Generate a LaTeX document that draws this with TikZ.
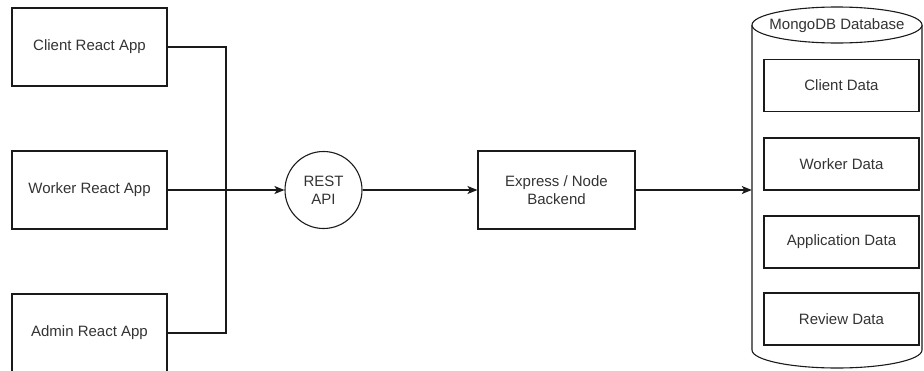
\documentclass[tikz,border=0pt]{standalone}
\usepackage{fontspec}
\setmainfont{Liberation Sans}
\usepackage{tikz}
\usetikzlibrary{arrows.meta, positioning, calc}
\definecolor{InkGray}{HTML}{333333}
\definecolor{WireGray}{HTML}{1A1A1A}

\begin{document}
\begin{tikzpicture}[x=1pt, y=-1pt,
    appbox/.style={draw=WireGray, line width=1.1pt, minimum width=155pt, minimum height=78pt, inner sep=0pt, text=InkGray, font=\fontsize{15}{18}\selectfont, align=center},
    databox/.style={appbox, minimum height=52pt},
    wire/.style={draw=WireGray, line width=1.1pt},
    arrow/.style={wire, -{Stealth[length=10pt, width=8pt, inset=2.5pt]}}]
    \clip (0,0) rectangle (924,370);

    \node[appbox] (client) at (89.5,47) {Client React App};
    \node[appbox] (worker) at (89.5,190) {Worker React App};
    \node[appbox] (admin) at (89.5,333) {Admin React App};
    \coordinate (bus) at (226,190);

    \node[appbox, circle, minimum width=77pt, minimum height=77pt] (rest) at (323.5,190) {REST\\API};
    \node[appbox, minimum width=157pt] (backend) at (556.5,190) {Express / Node\\Backend};

    % database cylinder
    \draw[wire] (752,25) -- (752,350) arc[start angle=180, end angle=0, x radius=85, y radius=18] -- (922,25);
    \draw[wire, fill=white] (837,25) ellipse[x radius=85, y radius=18];
    \node[text=InkGray, font=\fontsize{15}{18}\selectfont] (dblabel) at (837,26) {MongoDB Database};
    \node[minimum width=170pt, minimum height=325pt, inner sep=0pt] (db) at (837,190) {};

    \node[databox] (clientdata) at (841.5,85.5) {Client Data};
    \node[databox] (workerdata) at (841.5,164) {Worker Data};
    \node[databox] (appdata) at (841.5,242) {Application Data};
    \node[databox] (reviewdata) at (841.5,319) {Review Data};

    \draw[wire] (client.east) -| (bus);
    \draw[wire] (admin.east) -| (bus);
    \draw[arrow] (worker.east) -- (rest.west);
    \draw[arrow] (rest.east) -- (backend.west);
    \draw[arrow] (backend.east) -- (db.west);
\end{tikzpicture}
\end{document}
